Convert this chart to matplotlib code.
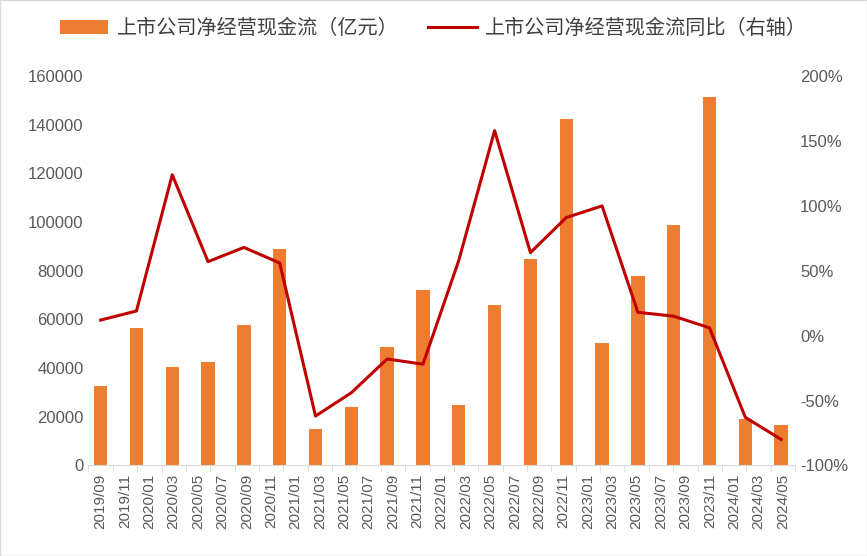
import matplotlib
matplotlib.use("Agg")
import matplotlib.pyplot as plt
import numpy as np

plt.rcParams["font.family"] = ["Liberation Sans", "Noto Sans CJK SC"]

tick_labels = [f"{y}/{m:02d}" for y, m in
               [(2019, 9), (2019, 11)] + [(y, m) for y in (2020, 2021, 2022, 2023) for m in (1, 3, 5, 7, 9, 11)] + [(2024, 1), (2024, 3), (2024, 5)]]
cash = [32500, 56500, 40500, 42500, 57800, 89000, 15000, 24000, 48500, 72000,
        25000, 66000, 85000, 142500, 50500, 78000, 99000, 151500, 19000, 16500]
yoy = [12, 19, 124, 57, 68, 56, -62, -44, -18, -22,
       58, 158, 64, 91, 100, 18, 15, 6, -63, -80]

months = np.arange(len(cash)) * 3 * 0.98  # quarterly, in months from 2019/09

fig = plt.figure(figsize=(8.67, 5.56), dpi=100)
ax = fig.add_axes([0.102, 0.163, 0.815, 0.7])
ax2 = ax.twinx()
b = ax.bar(months, cash, width=1.1, color="#ED7D31", zorder=2)
l, = ax2.plot(months, yoy, color="#C00000", lw=2.2)

ax.set_xlim(-1, 57)
ax.set_ylim(0, 160000)
ax.set_yticks(range(0, 160001, 20000))
ax2.set_ylim(-100, 200)
ax2.set_yticks(range(-100, 201, 50))
ax2.set_yticklabels([f"{v}%" for v in range(-100, 201, 50)])
ax.set_xticks(np.arange(len(tick_labels)) * 2)
ax.set_xticklabels(tick_labels, rotation=90)
ax.set_xticks(np.arange(len(tick_labels) + 1) * 2 - 1, minor=True)
ax.tick_params(axis="x", which="major", length=0, pad=6)
ax.tick_params(axis="x", which="minor", length=5, color="#D9D9D9")
for a in (ax, ax2):
    for s in a.spines.values():
        s.set_visible(False)
    a.tick_params(axis="y", length=0, labelsize=12, labelcolor="#595959")
ax.tick_params(axis="x", labelsize=11, labelcolor="#595959")
ax.spines["bottom"].set_visible(True)
ax.spines["bottom"].set_color("#D9D9D9")
fig.legend([b, l], ["上市公司净经营现金流（亿元）", "上市公司净经营现金流同比（右轴）"],
           loc="upper center", bbox_to_anchor=(0.5, 1.0), ncol=2, frameon=False,
           fontsize=14.5, labelcolor="#404040", handlelength=2.4, handletextpad=0.4,
           columnspacing=1.5, prop={"family": "Noto Sans CJK SC", "size": 14.5})
fig.patches.append(plt.Rectangle((0, 0), 1, 1, transform=fig.transFigure, fill=False,
                                 edgecolor="#D9D9D9", lw=1))
fig.savefig("out.png")
